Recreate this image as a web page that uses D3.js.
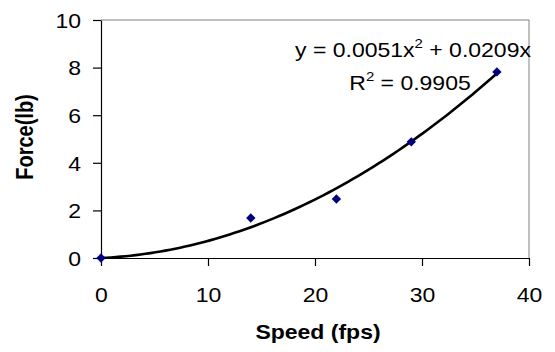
<!DOCTYPE html>
<html><head><meta charset="utf-8">
<script src="https://cdn.jsdelivr.net/npm/d3@7"></script>
<style>body{margin:0;background:#fff}svg{display:block;font-family:"Liberation Sans",Arial,sans-serif}</style>
</head><body><svg id="c" width="555" height="352"></svg>
<script>
const speeds = [0, 14, 22, 29, 37];
const forces = [0, 1.68, 2.48, 4.88, 7.82];
const xTicks = [0, 10, 20, 30, 40];
const yTicks = [0, 2, 4, 6, 8, 10];
const trendCoef = [0.0051, 0.0209]; // a*x^2 + b*x, from the chart's equation
const trendRange = [0, 37];
const eqLine1 = ["y = 0.0051x", "2", " + 0.0209x"];
const eqLine2 = ["R", "2", " = 0.9905"];

const SX = 1.15; // horizontal stretch of text as in the reference
const svg = d3.select("#c");
const L = 101, T = 20, R = 529, B = 258;
const x = d3.scaleLinear().domain([0, 40]).range([L, R]);
const y = d3.scaleLinear().domain([0, 10]).range([B, T]);

svg.append("path").attr("d", `M${L},${T}H${R}V${B}`).attr("fill","none").attr("stroke","#808080").attr("stroke-width",1);

const xa = svg.append("g").attr("transform",`translate(0,${B})`)
  .call(d3.axisBottom(x).tickValues(xTicks).tickSize(8).tickPadding(22).tickSizeOuter(0));
const ya = svg.append("g").attr("transform",`translate(${L},0)`)
  .call(d3.axisLeft(y).tickValues(yTicks).tickSize(8).tickPadding(12).tickSizeOuter(0));
[xa, ya].forEach(g => {
  g.selectAll("path").attr("stroke","#000").attr("stroke-width",1.2);
  g.selectAll("line").attr("stroke","#000").attr("stroke-width",1.2);
  g.selectAll("text").attr("font-size",20).attr("fill","#000").attr("font-family","Liberation Sans, Arial, sans-serif")
    .attr("transform",`scale(${SX},1)`);
});
xa.selectAll("text").attr("dy", null).attr("y", 44).attr("x", 0);
ya.selectAll("text").attr("dy","0.36em").attr("x", -20 / SX);

// trendline
const n = 80;
const tpts = d3.range(n+1).map(i => {
  const xv = trendRange[0] + (trendRange[1]-trendRange[0]) * i / n;
  return [xv, trendCoef[0]*xv*xv + trendCoef[1]*xv];
});
svg.append("path").datum(tpts)
  .attr("d", d3.line().x(d=>x(d[0])).y(d=>y(d[1])))
  .attr("fill","none").attr("stroke","#000").attr("stroke-width",2.6).attr("stroke-linejoin","round");

// points
svg.selectAll(".pt").data(speeds.map((s,i)=>[s, forces[i]])).join("path")
  .attr("class","pt")
  .attr("transform", d=>`translate(${x(d[0])},${y(d[1])}) rotate(45)`)
  .attr("d", d3.symbol().type(d3.symbolSquare).size(44))
  .attr("fill","#000080");

function eq(parts, cx, by) {
  const t = svg.append("text").attr("transform",`translate(${cx},${by}) scale(${SX},1)`).attr("text-anchor","middle")
    .attr("font-size",20).attr("fill","#000");
  t.append("tspan").text(parts[0]);
  t.append("tspan").attr("dy",-9).attr("font-size",13).text(parts[1]);
  t.append("tspan").attr("dy",9).text(parts[2]);
}
eq(eqLine1, 413, 57);
eq(eqLine2, 410, 90);

svg.append("text").attr("transform",`translate(318,339) scale(${SX},1)`).attr("text-anchor","middle")
  .attr("font-size",20).attr("font-weight","bold").text("Speed (fps)");
svg.append("text").attr("transform",`translate(33,137) rotate(-90) scale(1,${SX})`).attr("text-anchor","middle")
  .attr("font-size",20).attr("font-weight","bold").text("Force(lb)");
</script></body></html>
